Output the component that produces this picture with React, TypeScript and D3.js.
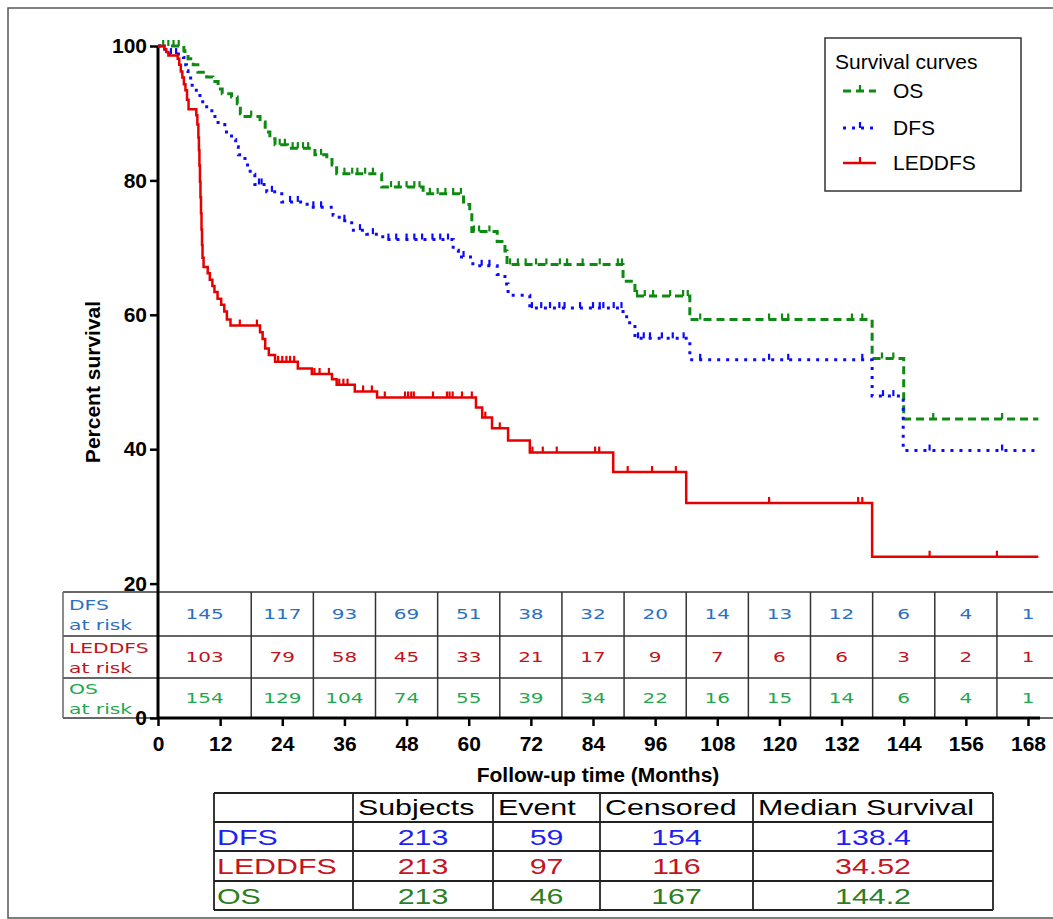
import { useRef, useEffect } from "react";
import * as d3 from "d3";

// axis ticks
const xTickValues = [0, 12, 24, 36, 48, 60, 72, 84, 96, 108, 120, 132, 144, 156, 168];
const yTickValues = [0, 20, 40, 60, 80, 100];

// Kaplan-Meier steps: [month, percent]
const osSteps: [number, number][] = [
  [0, 100], [5.0, 99.3], [5.2, 98.8], [5.8, 98.1], [6.8, 97.2], [7.7, 96.1], [9.4, 95.4],
  [10.6, 94.7], [11.6, 93.6], [12.4, 92.9], [14.2, 92.4], [15.3, 91.4], [15.9, 89.9],
  [16.8, 89.5], [19.7, 88.7], [20.7, 87.2], [21.6, 86.2], [22.6, 85.3], [25.0, 84.8],
  [30.3, 83.8], [32.6, 83.1], [33.6, 82.3], [34.5, 81.0], [43.2, 79.0], [51.2, 78.0],
  [59.0, 76.4], [60.2, 74.9], [60.6, 72.4], [65.5, 70.9], [67.0, 69.5], [67.4, 67.5],
  [89.8, 65.0], [92.1, 62.8], [102.7, 59.3], [137.9, 53.5], [144.0, 44.5],
];
const osCensored = [
  1, 2, 3, 4, 18, 23.5, 24.5, 26, 27, 28, 29, 31.5, 36, 37.5, 38.5, 40, 41.5, 45, 46.5, 48,
  49.5, 50.5, 52.5, 54, 55.5, 57, 58.5, 61, 62, 64, 68, 69.5, 71, 73, 75, 77.6, 79, 82, 85.3,
  88.8, 89.6, 92.5, 94, 95.6, 98.9, 101.4, 102.3, 104.7, 118, 120.5, 121.7, 134, 136, 139.8,
  142, 149.7, 163,
];

const dfsSteps: [number, number][] = [
  [0, 100], [0.8, 99.5], [1.8, 98.8], [4.9, 98.3], [5.0, 97.2], [5.5, 96.3], [5.8, 95.6],
  [6.3, 94.6], [6.6, 93.9], [7.4, 92.9], [8.1, 91.7], [9.4, 90.7], [10.4, 89.5], [11.6, 88.3],
  [12.9, 87.2], [14.2, 86.1], [15.0, 85.0], [15.5, 83.8], [16.8, 82.3], [17.8, 80.9],
  [18.7, 79.4], [21.0, 78.3], [23.9, 76.8], [28.8, 76.0], [33.8, 74.8], [35.0, 74.0],
  [37.4, 72.6], [40.3, 72.0], [43.4, 71.2], [57.0, 69.6], [58.0, 68.6], [60.8, 67.3],
  [65.5, 66.0], [67.0, 64.6], [67.6, 62.9], [71.8, 61.0], [89.8, 60.0], [90.5, 58.8],
  [92.1, 56.5], [102.7, 53.3], [137.9, 47.9], [143.9, 39.8],
];
const dfsCensored = [
  2.5, 3.5, 19.5, 20, 22, 25.5, 27, 30, 31.5, 36, 39, 41.5, 44.5, 46, 48, 49.5, 51, 53, 54.5,
  56, 59, 62.5, 64, 72.2, 74, 75.7, 77.5, 78.5, 81.5, 84, 85.3, 86, 88, 89.5, 92.7, 93.8, 95,
  97.3, 99.4, 101.5, 104.7, 118, 121.7, 136, 140, 142, 149, 163,
];

const leddfsSteps: [number, number][] = [
  [0, 100], [1.2, 99.5], [1.6, 99.1], [2.0, 98.6], [3.8, 98.1], [4.1, 97.2], [4.4, 96.2],
  [4.7, 95.3], [5.0, 94.3], [5.3, 93.4], [5.6, 92.0], [5.9, 90.6], [7.4, 89.7], [7.6, 88.3],
  [7.8, 86.4], [7.9, 84.5], [8.0, 82.2], [8.1, 79.8], [8.2, 77.5], [8.3, 75.1], [8.4, 72.7],
  [8.5, 70.4], [8.6, 68.5], [8.8, 67.1], [9.6, 66.2], [10.0, 65.2], [10.5, 64.3], [10.9, 63.4],
  [11.5, 62.4], [12.2, 61.5], [12.8, 60.5], [13.3, 59.3], [14.0, 58.4], [19.7, 57.4],
  [20.2, 56.4], [20.7, 55.0], [21.4, 54.0], [22.6, 53.0], [27.0, 52.0], [29.7, 51.2],
  [33.6, 50.4], [34.5, 49.6], [38.0, 48.6], [42.3, 47.7], [61.4, 46.2], [62.6, 44.7],
  [64.5, 43.1], [67.6, 41.3], [71.8, 39.5], [87.9, 36.6], [102.0, 32.0], [137.9, 24.0],
];
const leddfsCensored = [
  15.8, 19.1, 23.2, 24, 24.8, 25.5, 26.3, 30.2, 31.2, 33, 35, 35.8, 36.6, 39.6, 41.3, 43.8,
  47.7, 48.3, 48.9, 49.4, 53.1, 55.8, 56.3, 56.9, 58.7, 60.6, 63.2, 66, 72.3, 74.3, 77, 84.4,
  85.2, 90.7, 95.4, 100, 118, 135.2, 136, 149, 162,
];
const lastMonth = 170;

// numbers at risk
const riskMonths = [12, 24, 36, 48, 60, 72, 84, 96, 108, 120, 132, 144, 156, 168];
const dfsAtRisk = [145, 117, 93, 69, 51, 38, 32, 20, 14, 13, 12, 6, 4, 1];
const leddfsAtRisk = [103, 79, 58, 45, 33, 21, 17, 9, 7, 6, 6, 3, 2, 1];
const osAtRisk = [154, 129, 104, 74, 55, 39, 34, 22, 16, 15, 14, 6, 4, 1];

// summary table
const summaryHeaders = ["Subjects", "Event", "Censored", "Median Survival"];
const summaryNames = ["DFS", "LEDDFS", "OS"];
const summaryValues = [
  ["213", "59", "154", "138.4"],
  ["213", "97", "116", "34.52"],
  ["213", "46", "167", "144.2"],
];

const font = "'Liberation Sans', Arial, sans-serif";

export default function App() {
  const ref = useRef<SVGSVGElement | null>(null);

  useEffect(() => {
    if (!ref.current) return;
    const svg = d3.select(ref.current);
    svg.selectAll("*").remove();
    drawChart(svg);
  }, []);

  return (
    <svg
      ref={ref}
      width={1053}
      height={919}
      style={{ position: "absolute", left: 0, top: 0, background: "#fff" }}
    />
  );
}

function survivalAt(steps: [number, number][], t: number) {
  let s = steps[0][1];
  for (const [m, v] of steps) if (m <= t) s = v;
  return s;
}

function drawChart(svg: d3.Selection<SVGSVGElement, unknown, null, undefined>) {
  const x = d3.scaleLinear().domain([0, 168]).range([158, 1028]);
  const y = d3.scaleLinear().domain([0, 100]).range([718, 46]);

  // outer frame
  svg.append("rect").attr("x", 8).attr("y", 8).attr("width", 1046).attr("height", 910)
    .attr("fill", "none").attr("stroke", "#555").attr("stroke-width", 1.5);

  // ---- at-risk table ----
  const tTop = 592, tBottom = 718, tLeft = 63;
  const rowLines = [592, 636, 678, 718];
  // cell borders sit half-way between the risk months (first cell starts at 0)
  const cellEdges = [0, ...riskMonths.map((m) => m + 6)];
  const tg = svg.append("g").attr("stroke", "#333").attr("stroke-width", 1.5);
  rowLines.forEach((ry) =>
    tg.append("line").attr("x1", tLeft).attr("x2", 1053).attr("y1", ry).attr("y2", ry));
  tg.append("line").attr("x1", tLeft).attr("x2", tLeft).attr("y1", tTop).attr("y2", tBottom)
    .attr("stroke", "#666");
  cellEdges.slice(1).forEach((m) =>
    tg.append("line").attr("x1", x(m)).attr("x2", x(m)).attr("y1", tTop).attr("y2", tBottom));

  const riskRows = [
    { name: "DFS", data: dfsAtRisk, color: "#2a70c2", cy: 614 },
    { name: "LEDDFS", data: leddfsAtRisk, color: "#c0141c", cy: 657 },
    { name: "OS", data: osAtRisk, color: "#1fa84f", cy: 698 },
  ];
  const riskFont = "'DejaVu Sans', Verdana, sans-serif";
  riskRows.forEach((r) => {
    [r.name, "at risk"].forEach((txt, i) =>
      svg.append("text")
        .attr("transform", `translate(69,${r.cy - 4 + i * 20}) scale(1.4,1)`)
        .attr("font-family", riskFont).attr("font-size", 14.5).attr("fill", r.color)
        .text(txt));
    r.data.forEach((v, i) => {
      const cx = x((cellEdges[i] + cellEdges[i + 1]) / 2);
      svg.append("text")
        .attr("transform", `translate(${cx},${r.cy + 5}) scale(1.38,1)`)
        .attr("font-family", riskFont).attr("font-size", 14.5).attr("fill", r.color)
        .attr("text-anchor", "middle").text(v);
    });
  });

  // ---- axes ----
  svg.append("g")
    .attr("transform", "translate(158,0)")
    .call(d3.axisLeft(y).tickValues(yTickValues).tickSize(8).tickPadding(3).tickFormat(d3.format("d")))
    .call((g) => g.select(".domain").attr("stroke-width", 3).attr("d", `M0,${y(0)}V${y(100)}`))
    .call((g) => g.selectAll(".tick line").attr("stroke-width", 2.5))
    .call((g) => g.selectAll(".tick text").attr("font-family", font).attr("font-weight", "bold")
      .attr("font-size", 21).attr("fill", "#000"));

  svg.append("g")
    .attr("transform", `translate(0,${y(0)})`)
    .call(d3.axisBottom(x).tickValues(xTickValues).tickSize(8).tickPadding(10))
    .call((g) => g.select(".domain").attr("stroke-width", 3).attr("d", `M${x(0)},0H1040`))
    .call((g) => g.selectAll(".tick line").attr("stroke-width", 2.5))
    .call((g) => g.selectAll(".tick text").attr("font-family", font).attr("font-weight", "bold")
      .attr("font-size", 21).attr("fill", "#000"));

  svg.append("text")
    .attr("transform", "translate(100,382) rotate(-90)")
    .attr("text-anchor", "middle").attr("font-family", font).attr("font-weight", "bold")
    .attr("font-size", 21).text("Percent survival");

  svg.append("text")
    .attr("x", 598).attr("y", 782).attr("text-anchor", "middle")
    .attr("font-family", font).attr("font-weight", "bold").attr("font-size", 21)
    .text("Follow-up time (Months)");

  // ---- curves ----
  const line = d3.line<[number, number]>()
    .x((d) => x(d[0])).y((d) => y(d[1])).curve(d3.curveStepAfter);

  const series = [
    { steps: osSteps, cens: osCensored, color: "#0e8a12", dash: "8,5", width: 3 },
    { steps: dfsSteps, cens: dfsCensored, color: "#0a0aff", dash: "3,6", width: 3 },
    { steps: leddfsSteps, cens: leddfsCensored, color: "#e60000", dash: null, width: 2.5 },
  ];
  series.forEach((s) => {
    const pts: [number, number][] = [...s.steps, [lastMonth, s.steps[s.steps.length - 1][1]]];
    svg.append("path").datum(pts).attr("d", line).attr("fill", "none")
      .attr("stroke", s.color).attr("stroke-width", s.width)
      .attr("stroke-dasharray", s.dash);
    svg.append("g").attr("stroke", s.color).attr("stroke-width", 2.2)
      .selectAll("line").data(s.cens).join("line")
      .attr("x1", (t) => x(t)).attr("x2", (t) => x(t))
      .attr("y1", (t) => y(survivalAt(s.steps, t)))
      .attr("y2", (t) => y(survivalAt(s.steps, t)) - 6);
  });

  // ---- legend ----
  const lg = svg.append("g");
  lg.append("rect").attr("x", 825).attr("y", 38).attr("width", 196).attr("height", 153)
    .attr("fill", "#fff").attr("stroke", "#333").attr("stroke-width", 1.5);
  lg.append("text").attr("x", 835).attr("y", 69).attr("font-family", font)
    .attr("font-size", 21).text("Survival curves");
  const legendItems = [
    { label: "OS", ...series[0], cy: 91 },
    { label: "DFS", ...series[1], cy: 128 },
    { label: "LEDDFS", ...series[2], cy: 163 },
  ];
  legendItems.forEach((it) => {
    lg.append("line").attr("x1", 843).attr("x2", 876).attr("y1", it.cy).attr("y2", it.cy)
      .attr("stroke", it.color).attr("stroke-width", it.width)
      .attr("stroke-dasharray", it.dash);
    lg.append("line").attr("x1", 860).attr("x2", 860).attr("y1", it.cy).attr("y2", it.cy - 6)
      .attr("stroke", it.color).attr("stroke-width", 2.2);
    lg.append("text").attr("x", 893).attr("y", it.cy + 7).attr("font-family", font)
      .attr("font-size", 21).text(it.label);
  });

  // ---- summary table ----
  const colX = [214, 353, 493, 600, 753, 993];
  const rowY = [793, 822, 851, 881, 910];
  const sumColors = ["#1f1ff0", "#c4141c", "#2a7f1f"];
  const sg = svg.append("g").attr("stroke", "#222").attr("stroke-width", 1.8);
  rowY.forEach((ry) =>
    sg.append("line").attr("x1", colX[0]).attr("x2", colX[5]).attr("y1", ry).attr("y2", ry));
  colX.forEach((cx) =>
    sg.append("line").attr("x1", cx).attr("x2", cx).attr("y1", rowY[0]).attr("y2", rowY[4]));

  const cellText = (tx: number, ty: number, txt: string, color: string, anchor: string) =>
    svg.append("text")
      .attr("transform", `translate(${tx},${ty}) scale(1.38,1)`)
      .attr("font-family", font).attr("font-size", 22).attr("fill", color)
      .attr("text-anchor", anchor).text(txt);

  summaryHeaders.forEach((h, i) => cellText(colX[i + 1] + 5, rowY[0] + 22, h, "#000", "start"));
  summaryNames.forEach((n, r) => {
    cellText(colX[0] + 3, rowY[r + 1] + 23, n, sumColors[r], "start");
    summaryValues[r].forEach((v, c) =>
      cellText((colX[c + 1] + colX[c + 2]) / 2, rowY[r + 1] + 23, v, sumColors[r], "middle"));
  });
}
